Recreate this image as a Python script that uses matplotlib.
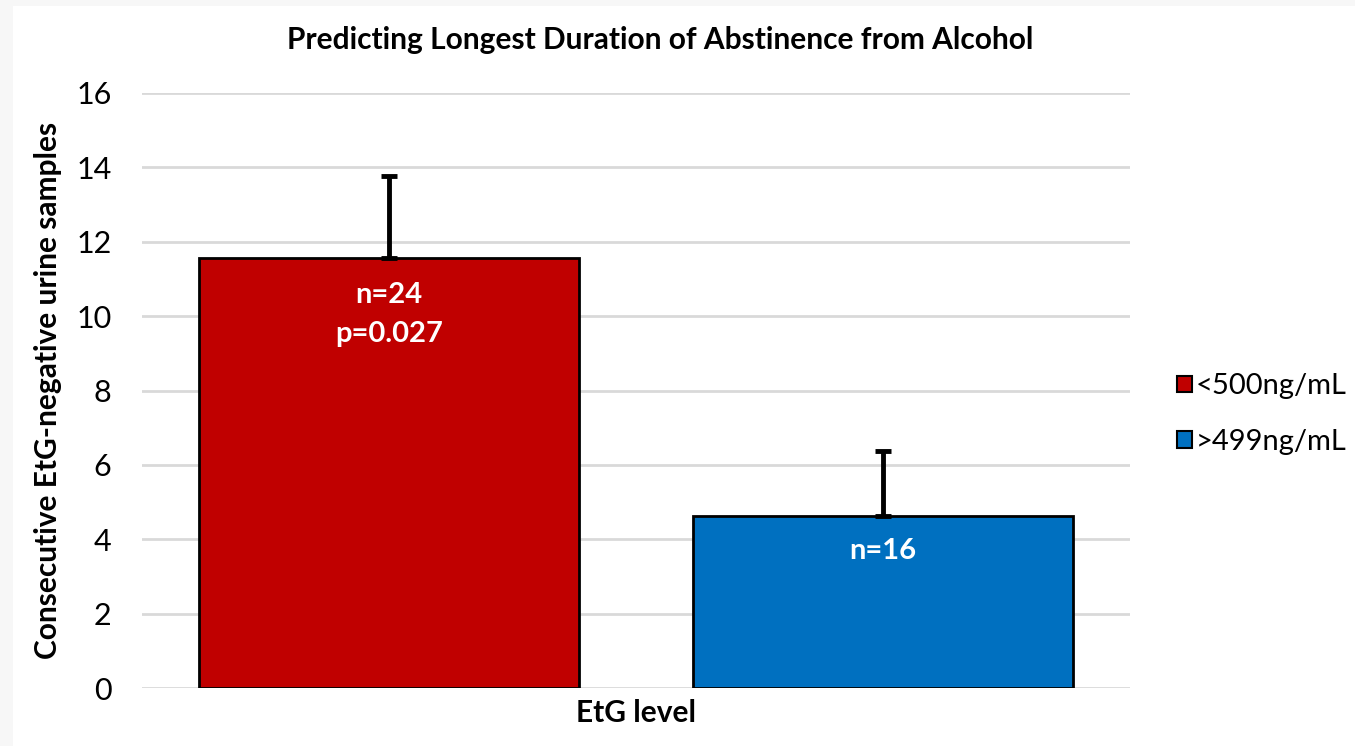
import matplotlib
matplotlib.use("Agg")
import matplotlib.pyplot as plt
from matplotlib.patches import Rectangle, Patch

# Data
categories = ["<500ng/mL", ">499ng/mL"]
means = [11.57, 4.63]
errors = [2.2, 1.75]
bar_texts = ["n=24\np=0.027", "n=16"]
text_y = [10.05, 3.68]
yticks = [0, 2, 4, 6, 8, 10, 12, 14, 16]
colors = ["#C00000", "#0070C0"]

plt.rcParams['font.family'] = ['Lato', 'DejaVu Sans']

fig = plt.figure(figsize=(13.55, 7.46), dpi=100)
fig.patch.set_facecolor("#f7f7f7")
bg = Rectangle((13/1355, 0), 1 - 13/1355, 1 - 6/746,
               transform=fig.transFigure, facecolor="white",
               edgecolor="none", zorder=-10)
fig.patches.append(bg)

ax = fig.add_axes([142/1355, 58/746, 988/1355, 595/746])
ax.set_zorder(2)
ax.set_facecolor("none")

xpos = [-0.25, 0.25]
bars = ax.bar(xpos, means, width=0.385, color=colors, edgecolor="black",
              linewidth=2, zorder=3)
for x, m, e in zip(xpos, means, errors):
    ax.errorbar([x], [m], yerr=[[0], [e]], fmt="none", ecolor="black",
                elinewidth=3.5, capsize=5.5, capthick=3.5, zorder=4)

for x, t, ty in zip(xpos, bar_texts, text_y):
    ax.text(x, ty, t, color="white", fontsize=21, fontweight="bold",
            ha="center", va="center", linespacing=1.6, zorder=5)

ax.set_xlim(-0.5, 0.5)
ax.set_ylim(0, 16)
ax.set_yticks(yticks)
ax.set_yticklabels([str(v) for v in yticks], fontsize=22)
ax.set_xticks([])
ax.tick_params(axis="y", length=0, pad=22)
ax.yaxis.grid(True, color="#d9d9d9", linewidth=2, zorder=0)
ax.set_axisbelow(True)
for s in ax.spines.values():
    s.set_visible(False)

ax.set_ylabel("Consecutive EtG-negative urine samples", fontsize=21.5,
              fontweight="bold", labelpad=10)
ax.set_xlabel("EtG level", fontsize=21.5, fontweight="bold", labelpad=8)
fig.text(660/1355, 1 - 40/746, "Predicting Longest Duration of Abstinence from Alcohol",
         ha="center", va="center", fontsize=21.5, fontweight="bold")

handles = [Patch(facecolor=c, edgecolor="black", linewidth=1.5) for c in colors]
fig.legend(handles, categories, loc="center left",
           bbox_to_anchor=(1177/1355, 1 - 414/746), frameon=False,
           fontsize=21, handlelength=0.5, handleheight=0.5,
           handletextpad=0.15, labelspacing=1.0, borderaxespad=0,
           borderpad=0)

fig.savefig("out.png", dpi=100)
